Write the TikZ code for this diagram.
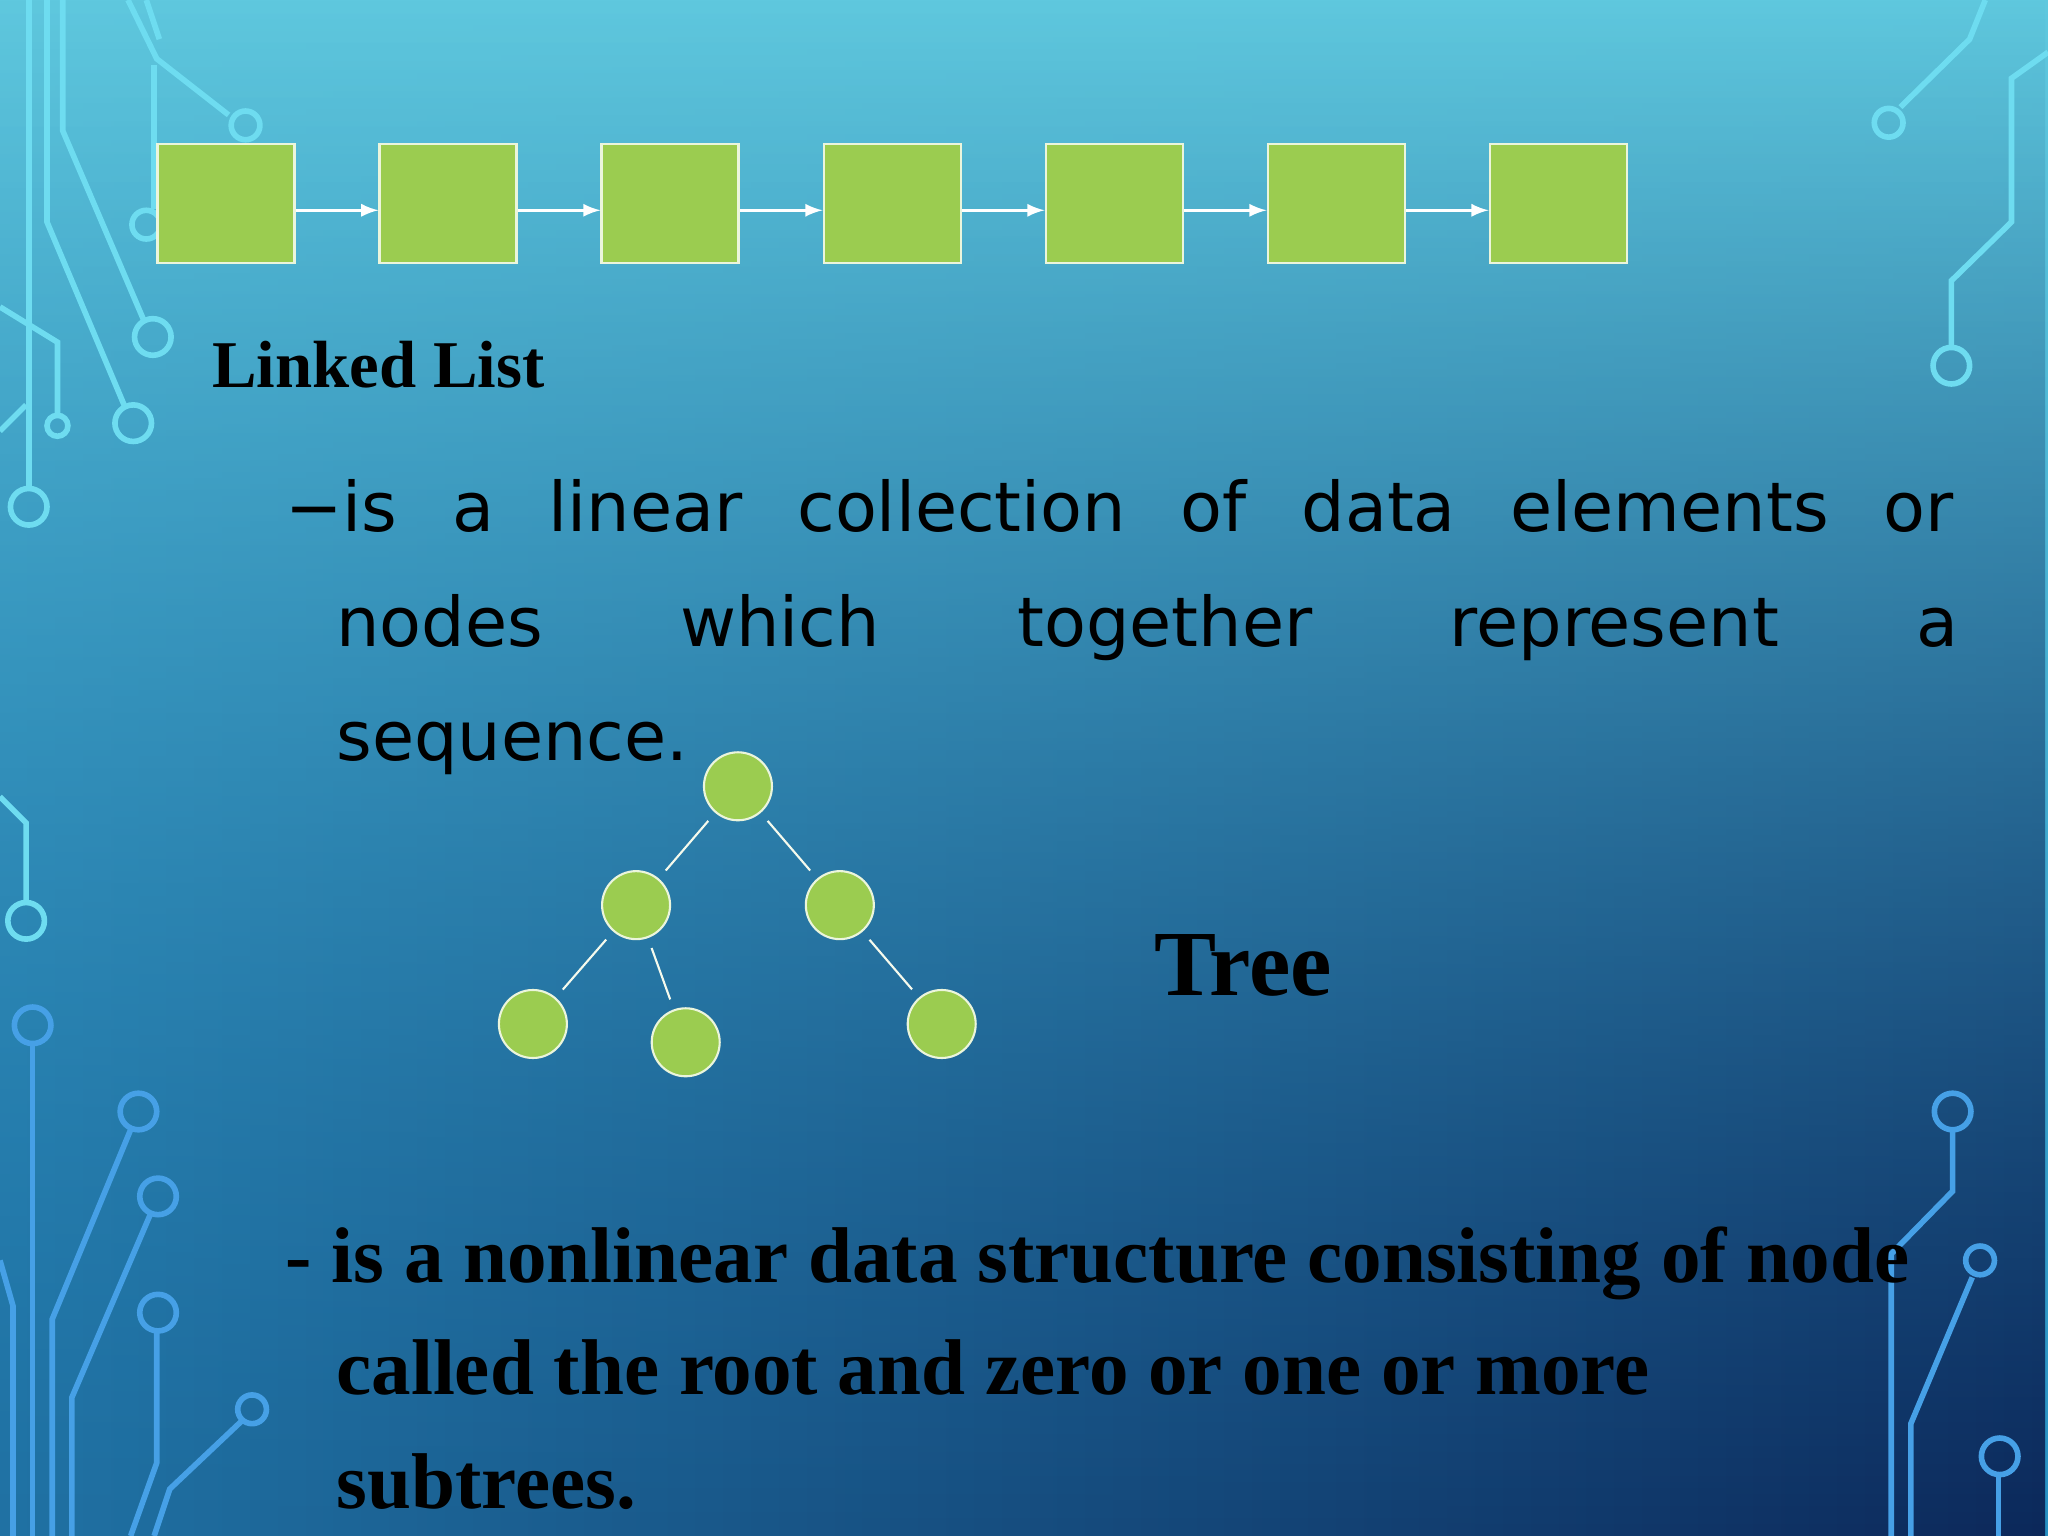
\documentclass[tikz,border=0pt]{standalone}
\usepackage{fontspec}
\usetikzlibrary{fadings}
\setmainfont{Liberation Serif}
\newfontfamily\bodysans{DejaVu Sans}
\definecolor{bgtop}{RGB}{95,200,222}
\definecolor{bgmid}{RGB}{40,145,195}
\definecolor{bgbot}{RGB}{12,40,90}
\definecolor{leaf}{RGB}{155,204,80}
\definecolor{circ}{RGB}{110,220,240}
\definecolor{circb}{RGB}{70,160,230}
\tikzfading[name=fadeup, top color=transparent!100, bottom color=transparent!0]
\begin{document}
\begin{tikzpicture}[x=0.013061cm,y=-0.013061cm,
  box/.style={draw=white!80!leaf,fill=leaf,minimum width=1.37cm,minimum height=1.19cm,inner sep=0,line width=0.6pt},
  tn/.style={circle,draw=white!80!leaf,fill=leaf,minimum size=0.68cm,inner sep=0,line width=0.6pt},
  lk/.style={draw=white,line width=0.7pt,-latex},
  ed/.style={draw=white!90!leaf,line width=0.6pt,shorten <=3pt,shorten >=3pt},
  trace/.style={draw=circ,line width=1.6pt},
  traceb/.style={draw=circb,line width=1.6pt},
  pad/.style={draw=circ,line width=1.6pt,fill=none}]
\useasboundingbox (0,0) rectangle (1568,1176);
\shade[top color=bgtop,bottom color=bgmid] (0,0) rectangle (1568,1176);
\shade[left color=bgmid!70!bgbot,right color=bgbot,path fading=fadeup] (0,0) rectangle (1568,1176);
% circuit traces top-left
\draw[trace] (98,0) -- (120,45) -- (175,88); \draw[pad] (188,96) circle (11);
\draw[trace] (112,0) -- (122,30);
\draw[trace] (48,0) -- (48,100) -- (110,245); \draw[pad] (117,258) circle (14);
\draw[trace] (36,0) -- (36,170) -- (95,310); \draw[pad] (102,324) circle (14);
\draw[trace] (22,0) -- (22,372); \draw[pad] (22,388) circle (14);
\draw[trace] (0,235) -- (44,262) -- (44,318); \draw[pad] (44,326) circle (8);
\draw[trace] (0,330) -- (20,310);
\draw[trace] (118,50) -- (118,160); \draw[pad] (112,172) circle (11);
% left middle
\draw[trace] (0,610) -- (20,630) -- (20,690); \draw[pad] (20,705) circle (14);
% top right
\draw[trace] (1520,0) -- (1508,30) -- (1455,82); \draw[pad] (1446,94) circle (11);
\draw[trace] (1568,40) -- (1540,60) -- (1540,170) -- (1494,215) -- (1494,265); \draw[pad] (1494,280) circle (14);
% bottom left
\draw[traceb] (25,800) -- (25,1176); \draw[pad,draw=circb] (25,785) circle (14);
\draw[traceb] (0,965) -- (10,1000) -- (10,1176);
\draw[traceb] (40,1176) -- (40,1010) -- (100,865); \draw[pad,draw=circb] (106,851) circle (14);
\draw[traceb] (55,1176) -- (55,1070) -- (115,930); \draw[pad,draw=circb] (121,916) circle (14);
\draw[traceb] (100,1176) -- (120,1120) -- (120,1020); \draw[pad,draw=circb] (121,1005) circle (14);
\draw[traceb] (118,1176) -- (130,1140) -- (185,1088); \draw[pad,draw=circb] (193,1079) circle (11);
% bottom right
\draw[traceb] (1448,1176) -- (1448,960) -- (1495,912) -- (1495,866); \draw[pad,draw=circb] (1495,851) circle (14);
\draw[traceb] (1463,1176) -- (1463,1090) -- (1510,978); \draw[pad,draw=circb] (1516,965) circle (11);
\draw[traceb] (1530,1176) -- (1530,1128); \draw[pad,draw=circb] (1531,1115) circle (14);
% linked list
\foreach \i in {0,...,6} \node[box] (b\i) at ({173+170*\i},156) {};
\foreach \i/\j in {0/1,1/2,2/3,3/4,4/5,5/6} \draw[lk] (b\i.east|-0,161) -- (b\j.west|-0,161);
\node[anchor=base west,inner sep=0,font=\bfseries\fontsize{19}{22}\selectfont] (ll) at (162,297) {Linked List};
% body text
\begin{scope}[every node/.style={anchor=base west,inner sep=0,font=\bodysans\fontsize{19.5}{24}\selectfont}]
\node (l1) at (218,407) {\hbox to 16.68cm{−is\hfill a\hfill linear\hfill collection\hfill of\hfill data\hfill elements\hfill or}};
\node (l2) at (257,495) {\hbox to 16.22cm{nodes\hfill which\hfill together\hfill represent\hfill a}};
\node (l3) at (257,582) {sequence.};
\end{scope}
% tree
\node[tn] (r) at (565,602) {};
\node[tn] (a) at (487,693) {};
\node[tn] (b) at (643,693) {};
\node[tn] (c) at (408,784) {};
\node[tn] (d) at (525,798) {};
\node[tn] (e) at (721,784) {};
\draw[ed] (r) -- (a); \draw[ed] (r) -- (b); \draw[ed] (a) -- (c); \draw[ed] (a) -- (d); \draw[ed] (b) -- (e);
\node[anchor=base,inner sep=0,font=\bfseries\fontsize{26.5}{30}\selectfont] (tr) at (952,762) {Tree};
\begin{scope}[every node/.style={anchor=base west,inner sep=0,font=\bfseries\fontsize{22.5}{26}\selectfont}]
\node (t1) at (218,982) {- is a nonlinear data structure consisting of node};
\node (t2) at (257,1068) {called the root and zero or one or more};
\node (t3) at (257,1155) {subtrees.};
\end{scope}
\end{tikzpicture}
\end{document}
